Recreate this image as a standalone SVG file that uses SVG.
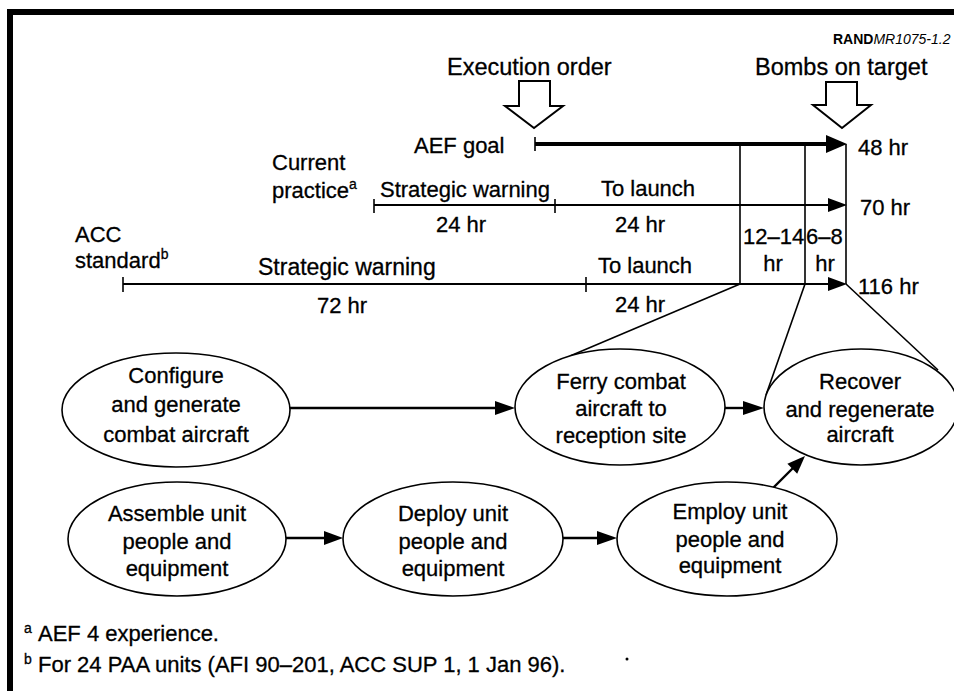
<svg xmlns="http://www.w3.org/2000/svg" width="954" height="691" viewBox="0 0 954 691">
<style>
text{font-family:"Liberation Sans",Arial,Helvetica,sans-serif;font-size:22px;fill:#000;stroke:#000;stroke-width:0.3}
.m{text-anchor:middle}
.sup{font-size:14px}
.node{fill:#fff;stroke:#000;stroke-width:1.6}
.ln{stroke:#000;stroke-width:1.6;fill:none}
.ar{stroke:#000;stroke-width:2.4;fill:none}
.hd{fill:#000;stroke:none}
.blk{fill:#fff;stroke:#000;stroke-width:2;stroke-linejoin:miter}
</style>
<rect x="0" y="0" width="954" height="691" fill="#fff"/>
<rect x="7" y="9" width="947" height="6" fill="#000"/>
<rect x="7" y="9" width="6" height="682" fill="#000"/>
<text x="833" y="44" style="font-size:14px;stroke-width:0"><tspan font-weight="bold">RAND</tspan><tspan font-style="italic">MR1075-1.2</tspan></text>

<g id="execution-order">
<text x="447" y="75" style="font-size:23.5px">Execution order</text>
<polygon class="blk" points="519,81 550,81 550,106 563,106 534,128 505,106 519,106"/>
</g>
<g id="bombs-on-target">
<text x="755" y="75" style="font-size:23.5px">Bombs on target</text>
<polygon class="blk" points="826,82 857,82 857,105 871,105 842,128 813,105 826,105"/>
</g>

<g id="timeline">
<text x="414" y="153">AEF goal</text>
<line x1="535" y1="137" x2="535" y2="151" class="ln" stroke-width="2"/>
<line x1="535" y1="144" x2="830" y2="144" stroke="#000" stroke-width="4"/>
<polygon class="hd" points="826,135 847,144 826,153"/>
<text x="858" y="155">48 hr</text>

<text x="272" y="170">Current</text>
<text x="272" y="198">practice<tspan class="sup" dy="-9">a</tspan></text>
<text x="380" y="197">Strategic warning</text>
<text x="648" y="196" class="m">To launch</text>
<line x1="374" y1="199" x2="374" y2="213" class="ln"/>
<line x1="555" y1="199" x2="555" y2="213" class="ln"/>
<line x1="374" y1="205" x2="830" y2="205" stroke="#000" stroke-width="2"/>
<polygon class="hd" points="828,198 847,205 828,212"/>
<text x="461" y="232" class="m">24 hr</text>
<text x="640" y="232" class="m">24 hr</text>
<text x="860" y="215">70 hr</text>

<text x="75" y="242">ACC</text>
<text x="75" y="268">standard<tspan class="sup" dy="-9">b</tspan></text>
<text x="258" y="275" style="font-size:23px">Strategic warning</text>
<text x="645" y="273" class="m">To launch</text>
<line x1="123" y1="277" x2="123" y2="292" class="ln"/>
<line x1="586" y1="277" x2="586" y2="292" class="ln"/>
<line x1="123" y1="284" x2="830" y2="284" stroke="#000" stroke-width="2"/>
<polygon class="hd" points="828,277 847,284 828,291"/>
<text x="342" y="313" class="m">72 hr</text>
<text x="640" y="312" class="m">24 hr</text>
<text x="858" y="294">116 hr</text>

<line x1="740" y1="144" x2="740" y2="284" class="ln"/>
<line x1="805" y1="144" x2="805" y2="284" class="ln"/>
<line x1="846" y1="144" x2="846" y2="284" class="ln"/>
<text x="743" y="244">12–14</text>
<text x="773" y="271" class="m">hr</text>
<text x="806" y="244">6–8</text>
<text x="825" y="271" class="m">hr</text>
</g>

<g id="connectors">
<line x1="740" y1="284" x2="570" y2="356" class="ln"/>
<line x1="805" y1="284" x2="766" y2="395" class="ln"/>
<line x1="846" y1="284" x2="938" y2="370" class="ln"/>
<line x1="290" y1="408" x2="498" y2="408" class="ar"/>
<polygon class="hd" points="495,401 515,408 495,415"/>
<line x1="725" y1="408" x2="746" y2="408" class="ar"/>
<polygon class="hd" points="743,401 764,408 743,415"/>
<line x1="286" y1="538" x2="327" y2="538" class="ar"/>
<polygon class="hd" points="324,531 343,538 324,545"/>
<line x1="563" y1="538" x2="600" y2="538" class="ar"/>
<polygon class="hd" points="597,531 617,538 597,545"/>
<line x1="773" y1="488" x2="794" y2="467" class="ar" stroke-width="3"/>
<polygon class="hd" points="797.2,473.7 805,456 787.4,463.8"/>
</g>

<g id="configure">
<ellipse class="node" cx="176" cy="410" rx="114" ry="57"/>
<text x="176" y="383" class="m">Configure</text>
<text x="176" y="412" class="m">and generate</text>
<text x="176" y="442" class="m">combat aircraft</text>
</g>
<g id="ferry">
<ellipse class="node" cx="620" cy="407" rx="105" ry="58"/>
<text x="621" y="389" class="m">Ferry combat</text>
<text x="621" y="416" class="m">aircraft to</text>
<text x="621" y="443" class="m">reception site</text>
</g>
<g id="recover">
<ellipse class="node" cx="861" cy="407" rx="97" ry="58"/>
<text x="860" y="389" class="m">Recover</text>
<text x="860" y="417" class="m">and regenerate</text>
<text x="860" y="442" class="m">aircraft</text>
</g>
<g id="assemble">
<ellipse class="node" cx="177" cy="539" rx="109" ry="57"/>
<text x="177" y="521" class="m">Assemble unit</text>
<text x="177" y="549" class="m">people and</text>
<text x="177" y="576" class="m">equipment</text>
</g>
<g id="deploy">
<ellipse class="node" cx="453" cy="539" rx="110" ry="57"/>
<text x="453" y="521" class="m">Deploy unit</text>
<text x="453" y="549" class="m">people and</text>
<text x="453" y="576" class="m">equipment</text>
</g>
<g id="employ">
<ellipse class="node" cx="727" cy="539" rx="110" ry="57"/>
<text x="730" y="519" class="m">Employ unit</text>
<text x="730" y="547" class="m">people and</text>
<text x="730" y="573" class="m">equipment</text>
</g>

<g id="footnotes">
<text x="24" y="633" class="sup">a</text>
<text x="38" y="641">AEF 4 experience.</text>
<text x="24" y="664" class="sup">b</text>
<text x="38" y="672">For 24 PAA units (AFI 90–201, ACC SUP 1, 1 Jan 96).</text>
<circle cx="627" cy="659" r="1.5" fill="#000"/>
</g>
</svg>
